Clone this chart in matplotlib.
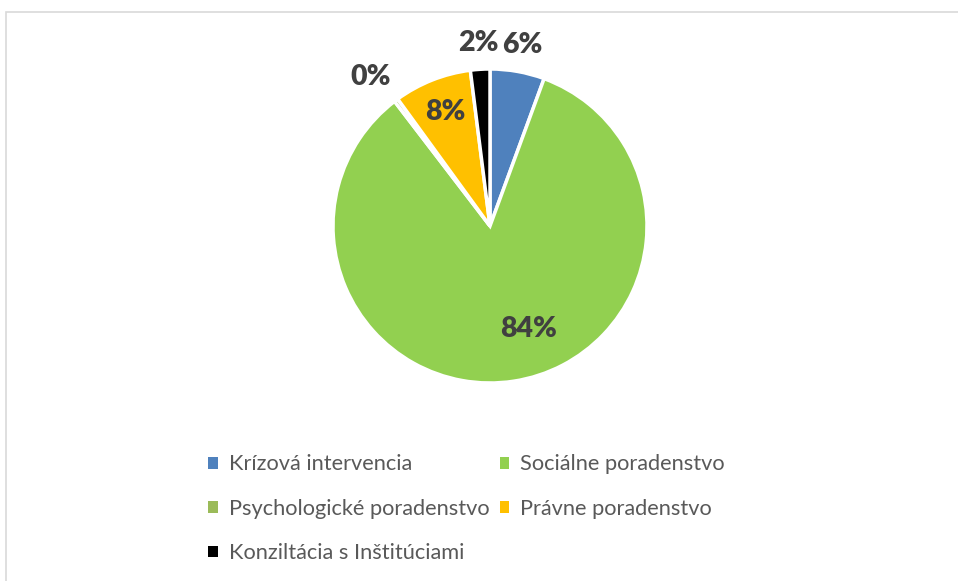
import matplotlib
matplotlib.use("Agg")
import matplotlib.pyplot as plt
from matplotlib.patches import Rectangle
import numpy as np

categories = ["Krízová intervencia", "Sociálne poradenstvo", "Psychologické poradenstvo",
              "Právne poradenstvo", "Konziltácia s Inštitúciami"]
values = [5.6, 84.0, 0.4, 8.0, 2.0]
labels = ["6%", "84%", "0%", "8%", "2%"]
colors = ["#4F81BD", "#92D050", "#9BBB59", "#FFC000", "#000000"]

# label placement style (radius as fraction, angle tweak in degrees)
label_r = [1.17, 0.70, 1.22, 0.78, 1.17]
label_dang = [0, 12, 2, 0, 0]

W, H = 958, 581
fig = plt.figure(figsize=(W / 100, H / 100), dpi=100)
fig.patch.set_facecolor("white")

fig.patches.append(Rectangle((5.5 / W, -0.1), 2, 1 - 11.5 / H + 0.1, transform=fig.transFigure,
                             fill=False, edgecolor="#D9D9D9", linewidth=1.2))

cx, cy, r = 490, 226, 157
ax = fig.add_axes([(cx - r) / W, (H - cy - r) / H, 2 * r / W, 2 * r / H])
wedges, _ = ax.pie(values, colors=colors, startangle=90, counterclock=False, radius=1,
                   wedgeprops=dict(edgecolor="white", linewidth=2.5))
ax.set_xlim(-1, 1)
ax.set_ylim(-1, 1)
ax.set_aspect("equal")
ax.axis("off")

for w, lab, lr, da in zip(wedges, labels, label_r, label_dang):
    ang = np.deg2rad((w.theta1 + w.theta2) / 2 + da)
    ax.text(lr * np.cos(ang), lr * np.sin(ang), lab, ha="center", va="center",
            fontsize=20.5, fontweight="heavy", color="#404040", family="Lato", clip_on=False)

order = [0, 2, 4, 1, 3]
handles = [wedges[i] for i in order]
labs = [categories[i] for i in order]
leg = fig.legend(handles, labs, ncol=2, loc="upper left",
                 bbox_to_anchor=(191 / W, 1 - 437 / H), frameon=False,
                 prop=dict(family="Lato", size=15.7), labelcolor="#595959",
                 handlelength=0.45, handleheight=0.45, handletextpad=0.5,
                 columnspacing=0.45, labelspacing=1.12, borderpad=0.3)
for h in leg.legend_handles:
    h.set_edgecolor("none")

fig.savefig("out.png", dpi=100)
